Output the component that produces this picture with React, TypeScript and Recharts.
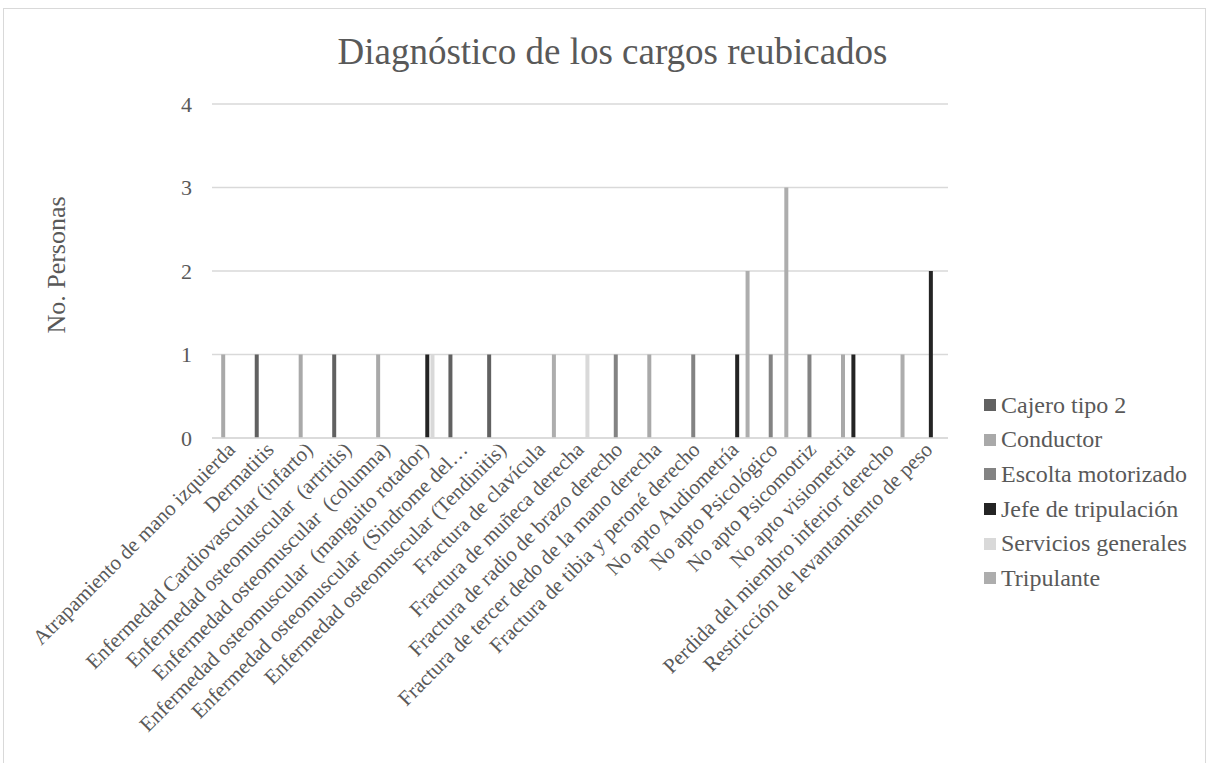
import React from "react";
import { BarChart, Bar, XAxis, YAxis, CartesianGrid } from "recharts";

const categories = [
  "Atrapamiento de mano izquierda",
  "Dermatitis",
  "Enfermedad Cardiovascular (infarto)",
  "Enfermedad osteomuscular  (artritis)",
  "Enfermedad osteomuscular  (columna)",
  "Enfermedad osteomuscular  (manguito rotador)",
  "Enfermedad osteomuscular  (Sindrome del…",
  "Enfermedad osteomuscular (Tendinitis)",
  "Fractura de clavícula",
  "Fractura de muñeca derecha",
  "Fractura de radio de brazo derecho",
  "Fractura de tercer dedo de la mano derecha",
  "Fractura de tibia y peroné derecho",
  "No apto Audiometría",
  "No apto Psicológico",
  "No apto Psicomotriz",
  "No apto visiometria",
  "Perdida del miembro inferior derecho",
  "Restricción de levantamiento de peso",
];

const cajero = [0, 1, 0, 1, 0, 0, 1, 1, 0, 0, 0, 0, 0, 0, 0, 0, 0, 0, 0];
const conductor = [1, 0, 1, 0, 1, 0, 0, 0, 0, 0, 0, 1, 0, 0, 0, 0, 1, 0, 0];
const escolta = [0, 0, 0, 0, 0, 0, 0, 0, 0, 0, 1, 0, 1, 0, 1, 1, 0, 0, 0];
const jefe = [0, 0, 0, 0, 0, 1, 0, 0, 0, 0, 0, 0, 0, 1, 0, 0, 1, 0, 2];
const servicios = [0, 0, 0, 0, 0, 1, 0, 0, 0, 1, 0, 0, 0, 0, 0, 0, 0, 0, 0];
const tripulante = [0, 0, 0, 0, 0, 0, 0, 0, 1, 0, 0, 0, 0, 2, 3, 0, 0, 1, 0];

const yTicks = [0, 1, 2, 3, 4];

const series = [
  { key: "cajero", name: "Cajero tipo 2", color: "#616161", values: cajero },
  { key: "conductor", name: "Conductor", color: "#a9a9a9", values: conductor },
  { key: "escolta", name: "Escolta motorizado", color: "#838383", values: escolta },
  { key: "jefe", name: "Jefe de tripulación", color: "#242424", values: jefe },
  { key: "servicios", name: "Servicios generales", color: "#d9d9d9", values: servicios },
  { key: "tripulante", name: "Tripulante", color: "#adadad", values: tripulante },
];

const data = categories.map((name, i) => {
  const row: Record<string, string | number> = { name };
  series.forEach((s) => {
    row[s.key] = s.values[i];
  });
  return row;
});

const FONT = "'Liberation Serif', 'Times New Roman', serif";
const TEXT = "#595959";

const XTick = (props: any) => {
  const { x, y, payload } = props;
  return (
    <g transform={`translate(${x + 5},${y + 5})`}>
      <text
        transform="rotate(-45)"
        textAnchor="end"
        fill={TEXT}
        fontSize={21}
        fontFamily={FONT}
        style={{ whiteSpace: "pre" }}
      >
        {payload.value}
      </text>
    </g>
  );
};

export default function App() {
  return (
    <div
      style={{
        position: "absolute",
        left: 0,
        top: 0,
        width: 1207,
        height: 763,
        background: "#fff",
        overflow: "hidden",
      }}
    >
      <div
        style={{
          position: "absolute",
          left: 3,
          top: 8,
          width: 1201,
          height: 800,
          border: "1px solid #d9d9d9",
        }}
      />
      <div
        style={{
          position: "absolute",
          left: 0,
          width: 1225,
          top: 33,
          textAlign: "center",
          fontFamily: FONT,
          fontSize: 37,
          lineHeight: "37px",
          color: TEXT,
        }}
      >
        Diagnóstico de los cargos reubicados
      </div>
      <div
        style={{
          position: "absolute",
          left: 57,
          top: 265,
          transform: "translate(-50%, -50%) rotate(-90deg)",
          fontFamily: FONT,
          fontSize: 26,
          color: TEXT,
          whiteSpace: "nowrap",
        }}
      >
        No. Personas
      </div>
      <div style={{ position: "absolute", left: 0, top: 0 }}>
        <BarChart
          width={1207}
          height={763}
          data={data}
          margin={{ top: 104, right: 259, bottom: 25, left: 152 }}
          barSize={4}
          barGap={1.2}
        >
          <CartesianGrid vertical={false} stroke="#d9d9d9" strokeWidth={1.3} />
          <XAxis
            dataKey="name"
            interval={0}
            height={300}
            tickLine={false}
            axisLine={{ stroke: "#d9d9d9", strokeWidth: 1.3 }}
            tick={<XTick />}
          />
          <YAxis
            width={60}
            domain={[0, 4]}
            ticks={yTicks}
            axisLine={false}
            tickLine={false}
            tickMargin={14}
            tick={{ fill: TEXT, fontSize: 22, fontFamily: FONT }}
          />
          {series.map((s) => (
            <Bar
              key={s.key}
              dataKey={s.key}
              name={s.name}
              fill={s.color}
              isAnimationActive={false}
            />
          ))}
        </BarChart>
      </div>
      <div
        style={{
          position: "absolute",
          left: 984,
          top: 388,
          fontFamily: FONT,
          fontSize: 24,
          color: TEXT,
        }}
      >
        {series.map((s) => (
          <div
            key={s.key}
            style={{ display: "flex", alignItems: "center", height: 34.6 }}
          >
            <span
              style={{
                display: "inline-block",
                width: 12,
                height: 12,
                background: s.color,
                marginRight: 5,
              }}
            />
            <span style={{ whiteSpace: "nowrap" }}>{s.name}</span>
          </div>
        ))}
      </div>
    </div>
  );
}
